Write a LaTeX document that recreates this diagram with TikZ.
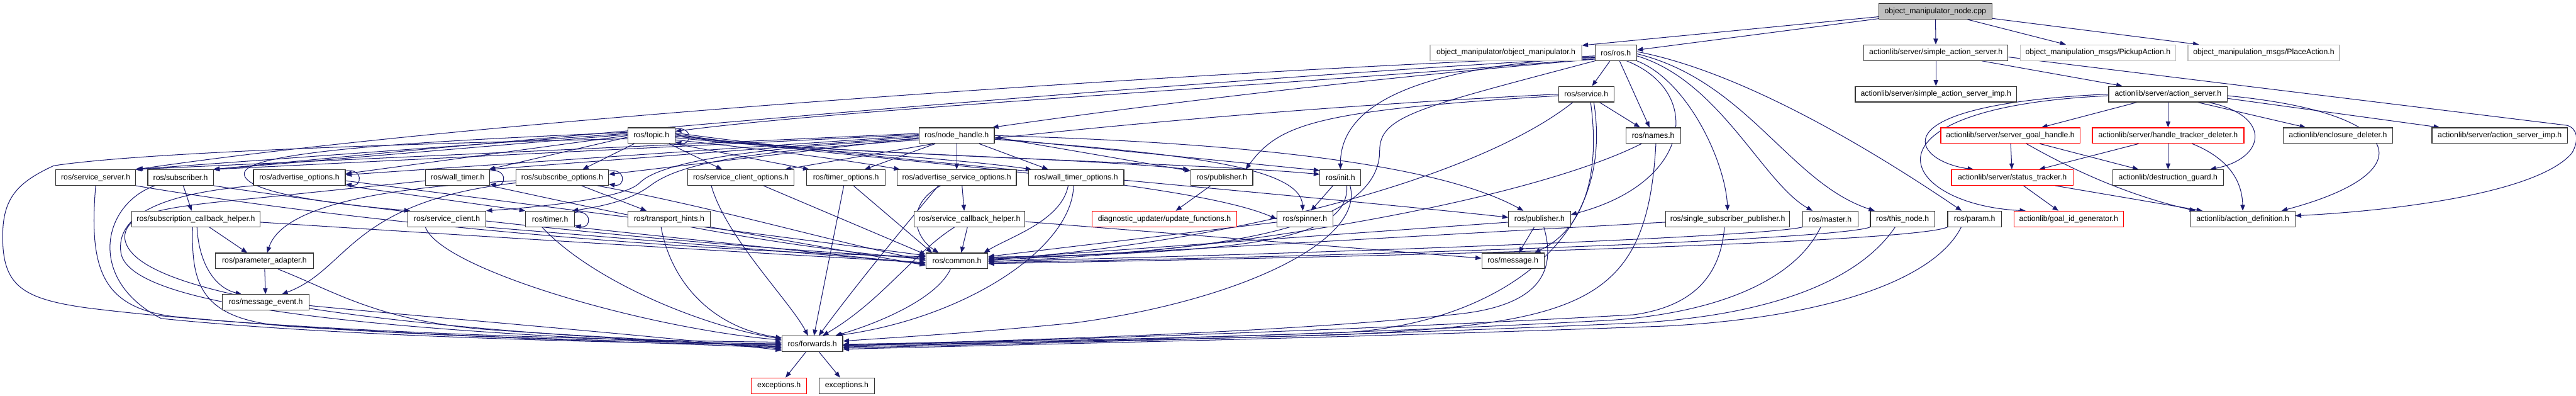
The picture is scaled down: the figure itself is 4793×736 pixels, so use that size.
\documentclass[tikz,border=0pt]{standalone}
\usepackage{fontspec}
\setmainfont{Liberation Sans}
\usetikzlibrary{arrows.meta}
\definecolor{navy}{HTML}{191970}
\definecolor{lgray}{HTML}{BFBFBF}
\pgfdeclarelayer{bg}
\pgfsetlayers{bg,main}
\begin{document}
\begin{tikzpicture}[x=1pt,y=1pt,
  box/.style={draw=black!80, line width=1.4pt, fill=white, minimum height=29pt, inner sep=0pt, text=black, font=\fontsize{14.4pt}{17pt}\selectfont},
  w/.style={minimum width=#1pt},
  redbox/.style={box, draw=red},
  graybox/.style={box, draw=lgray},
  e/.style={draw=navy, line width=1.2pt, -{Triangle[length=11pt,width=8.5pt]}}]
\useasboundingbox (0,0) rectangle (4793,-736);
% row 0
\node[box,w=210,fill=lgray] (nodecpp) at (3601,-21) {object\_manipulator\_node.cpp};
% row 1
\node[graybox,w=282] (objman) at (2802,-98) {object\_manipulator/object\_manipulator.h};
\node[box,w=77] (ros) at (3006.5,-98) {ros/ros.h};
\node[box,w=268] (sas) at (3602,-98) {actionlib/server/simple\_action\_server.h};
\node[graybox,w=289] (pickup) at (3903.5,-98) {object\_manipulation\_msgs/PickupAction.h};
\node[graybox,w=282] (place) at (4212,-98) {object\_manipulation\_msgs/PlaceAction.h};
% row 2
\node[box,w=103] (service) at (2951.5,-175) {ros/service.h};
\node[box,w=300] (sasimp) at (3602,-175) {actionlib/server/simple\_action\_server\_imp.h};
\node[box,w=221] (asrv) at (4034,-175) {actionlib/server/action\_server.h};
% row 3
\node[box,w=88] (topic) at (1212,-252) {ros/topic.h};
\node[box,w=140] (nh) at (1780,-252) {ros/node\_handle.h};
\node[box,w=102] (names) at (3076,-252) {ros/names.h};
\node[redbox,w=259] (sgh) at (3740.5,-252) {actionlib/server/server\_goal\_handle.h};
\node[redbox,w=282] (htd) at (4034,-252) {actionlib/server/handle\_tracker\_deleter.h};
\node[box,w=204] (encd) at (4350,-252) {actionlib/enclosure\_deleter.h};
\node[box,w=252] (asimp) at (4651,-252) {actionlib/server/action\_server\_imp.h};
% row 4
\node[box,w=148] (ss) at (178,-330) {ros/service\_server.h};
\node[box,w=122] (sub) at (336,-330) {ros/subscriber.h};
\node[box,w=171] (ao) at (557,-330) {ros/advertise\_options.h};
\node[box,w=119] (wt) at (851.5,-330) {ros/wall\_timer.h};
\node[box,w=172] (so) at (1046,-330) {ros/subscribe\_options.h};
\node[box,w=197] (sco) at (1378.5,-330) {ros/service\_client\_options.h};
\node[box,w=146] (tmo) at (1574,-330) {ros/timer\_options.h};
\node[box,w=222] (aso) at (1780,-330) {ros/advertise\_service\_options.h};
\node[box,w=177] (wto) at (2002.5,-330) {ros/wall\_timer\_options.h};
\node[box,w=115] (pubA) at (2273.5,-330) {ros/publisher.h};
\node[box,w=76] (init) at (2494,-330) {ros/init.h};
\node[redbox,w=226] (stk) at (3744,-330) {actionlib/server/status\_tracker.h};
\node[box,w=206] (dg) at (4034,-330) {actionlib/destruction\_guard.h};
% row 5
\node[box,w=239] (sch) at (364.5,-407) {ros/subscription\_callback\_helper.h};
\node[box,w=145] (sc) at (831.5,-407) {ros/service\_client.h};
\node[box,w=91] (timer) at (1023.5,-407) {ros/timer.h};
\node[box,w=154] (th) at (1245,-407) {ros/transport\_hints.h};
\node[box,w=206] (scbh) at (1804,-407) {ros/service\_callback\_helper.h};
\node[redbox,w=269] (duf) at (2166.5,-407) {diagnostic\_updater/update\_functions.h};
\node[box,w=104] (spin) at (2428,-407) {ros/spinner.h};
\node[box,w=115] (pubB) at (2864.5,-407) {ros/publisher.h};
\node[box,w=231] (ssp) at (3214.5,-407) {ros/single\_subscriber\_publisher.h};
\node[box,w=103] (master) at (3405.5,-407) {ros/master.h};
\node[box,w=120] (tn) at (3540,-407) {ros/this\_node.h};
\node[box,w=100] (param) at (3674,-407) {ros/param.h};
\node[redbox,w=204] (gig) at (3849,-407) {actionlib/goal\_id\_generator.h};
\node[box,w=194] (adef) at (4173,-407) {actionlib/action\_definition.h};
% row 6-9
\node[box,w=182] (pa) at (492,-485) {ros/parameter\_adapter.h};
\node[box,w=115] (common) at (1780.5,-485) {ros/common.h};
\node[box,w=116] (msg) at (2815,-485) {ros/message.h};
\node[box,w=161] (me) at (494.5,-562) {ros/message\_event.h};
\node[box,w=113] (fwd) at (1511.5,-639) {ros/forwards.h};
\node[redbox,w=103] (excA) at (1449.5,-717) {exceptions.h};
\node[box,w=103] (excB) at (1575.5,-717) {exceptions.h};

\begin{pgfonlayer}{bg}
\fill[white] (0,0) rectangle (4793,-736);
% ---- top / actionlib
\draw[e] (nodecpp) -- (objman);
\draw[e] (nodecpp) -- (ros);
\draw[e] (nodecpp) -- (sas);
\draw[e] (nodecpp) -- (pickup);
\draw[e] (nodecpp) -- (place);
\draw[e] (sas) -- (sasimp);
\draw[e] (sas) -- (asrv);
\draw[e] ([yshift=-8]sas.east) -- (4776,-233) .. controls (4795,-238) and (4800,-260) .. (4785,-285) .. controls (4720,-360) and (4450,-392) .. ([yshift=6]adef.east);
\draw[e] (asrv) -- (sgh);
\draw[e] (asrv) -- (htd);
\draw[e] (asrv.west) .. controls (3480,-195) and (3560,-300) .. ([xshift=-72]stk.north);
\draw[e] ([yshift=-3]asrv.west) .. controls (3440,-200) and (3530,-380) .. ([xshift=-80]gig.north);
\draw[e] ([xshift=75]asrv.south) .. controls (4230,-215) and (4215,-295) .. ([xshift=78]dg.north);
\draw[e] ([xshift=55]asrv.south) -- ([xshift=-60]encd.north);
\draw[e] ([yshift=-8]asrv.east) -- ([xshift=15]asimp.north west);
\draw[e] ([yshift=-3]asrv.east) .. controls (4480,-210) and (4515,-320) .. ([xshift=72]adef.north);
\draw[e] (sgh) -- (stk);
\draw[e] ([xshift=55]sgh.south) -- ([xshift=-55]dg.north);
\draw[e] ([xshift=30]sgh.south) .. controls (3890,-335) and (3990,-370) .. ([xshift=-88]adef.north);
\draw[e] ([xshift=-55]htd.south) -- ([xshift=50]stk.north);
\draw[e] (htd) -- (dg);
\draw[e] ([xshift=45]htd.south) .. controls (4160,-300) and (4172,-350) .. (adef.north);
\draw[e] ([xshift=21]stk.south) -- ([xshift=-19]gig.north);
\draw[e] ([xshift=80]stk.south) -- ([xshift=-75]adef.north);
% ---- ros.h
\draw[e] (ros) -- (service);
\draw[e] (ros) -- (names);
\draw[e] ([xshift=20]ros.south) .. controls (3170,-170) and (3150,-340) .. ([yshift=8]pubB.east);
\draw[e] (ros.south east) .. controls (3140,-150) and (3210,-300) .. (ssp.north);
\draw[e] ([yshift=-6]ros.east) .. controls (3200,-150) and (3280,-340) .. ([xshift=-33]master.north);
\draw[e] ([yshift=-2]ros.east) .. controls (3250,-150) and (3330,-340) .. ([xshift=-52]tn.north);
\draw[e] ([yshift=2]ros.east) .. controls (3250,-135) and (3500,-290) .. ([xshift=-24]param.north);
\draw[e] ([yshift=-8]ros.west) .. controls (2620,-125) and (2494,-200) .. (init.north);
\draw[e] ([yshift=-6]ros.west) .. controls (2200,-135) and (900,-220) .. ([xshift=2]ss.north east);
\draw[e] ([yshift=-9]ros.west) .. controls (2200,-150) and (1000,-255) .. (sub.north east);
\draw[e] ([yshift=-11]ros.west) .. controls (2300,-165) and (1600,-200) .. ([yshift=8]topic.east);
\draw[e] ([yshift=-12]ros.west) .. controls (2500,-150) and (2100,-200) .. ([xshift=-4]nh.north east);
\draw[e] (ros.south west) .. controls (2640,-200) and (2567,-215) .. (2567,-280) .. controls (2567,-440) and (2200,-472) .. ([yshift=5]common.east);
% ---- service.h / names.h
\draw[e] (service) -- (names);
\draw[e] (service.west) .. controls (2500,-195) and (2150,-225) .. ([yshift=-5]nh.east);
\draw[e] ([yshift=-3]service.west) .. controls (2450,-205) and (2380,-230) .. ([xshift=-14]pubA.north east);
\draw[e] ([xshift=8]service.south) .. controls (2975,-300) and (2960,-420) .. ([xshift=40]msg.north);
\draw[e] ([xshift=14]service.south) .. controls (3010,-470) and (2750,-605) .. (2500,-618) .. controls (2100,-632) and (1800,-636) .. ([yshift=-1]fwd.east);
\draw[e] ([xshift=-25]service.south) .. controls (2750,-330) and (2300,-450) .. ([yshift=2]common.east);
\draw[e] ([xshift=-22]names.south) .. controls (2850,-370) and (2300,-470) .. ([yshift=-1]common.east);
\draw[e] ([xshift=5]names.south) .. controls (3065,-560) and (2950,-600) .. (2500,-622) .. controls (2100,-634) and (1800,-638) .. ([yshift=-3]fwd.east);
% ---- topic.h
\draw[e] ([yshift=-3]topic.north east) .. controls +(32,6) and +(32,-6) .. ([yshift=3]topic.south east);
\draw[e] ([yshift=4]topic.west) -- ([xshift=-1]ss.north east);
\draw[e] ([yshift=2]topic.west) -- ([xshift=-1]sub.north east);
\draw[e] (topic.west) -- ([yshift=7]ao.east);
\draw[e] ([yshift=-3]topic.west) -- ([xshift=-2]wt.north east);
\draw[e] ([xshift=-32]topic.south) -- ([xshift=38]so.north);
\draw[e] ([xshift=33]topic.south) -- ([xshift=-35]sco.north);
\draw[e] (topic.south east) -- ([xshift=5]tmo.north west);
\draw[e] ([yshift=-8]topic.east) .. controls (1400,-275) and (1560,-295) .. ([xshift=6]aso.north west);
\draw[e] ([yshift=-4]topic.east) .. controls (1500,-280) and (1760,-292) .. ([xshift=6]wto.north west);
\draw[e] ([yshift=-1]topic.east) .. controls (1500,-285) and (2000,-292) .. ([xshift=-3]pubA.north west);
\draw[e] ([yshift=1]topic.east) .. controls (1500,-288) and (2200,-300) .. ([yshift=6]init.west);
\draw[e] ([yshift=3]topic.east) .. controls (1500,-290) and (2200,-330) .. (spin.west);
\draw[e] ([yshift=5]topic.east) .. controls (1600,-295) and (2400,-360) .. ([yshift=3]pubB.west);
\draw[e] ([yshift=6]topic.west) .. controls (900,-258) and (470,-275) .. (455,-320) .. controls (445,-355) and (600,-378) .. ([xshift=5]sc.north west);
\draw[e] ([yshift=-6]topic.west) .. controls (700,-268) and (250,-285) .. (100,-308) .. controls (30,-340) and (5,-370) .. (5,-440) .. controls (5,-530) and (40,-555) .. (160,-572) .. controls (500,-615) and (1100,-632) .. ([yshift=3]fwd.west);
% ---- node_handle.h
\draw[e] ([yshift=4]nh.west) -- (ss.north east);
\draw[e] ([yshift=2]nh.west) -- (sub.north east);
\draw[e] (nh.west) -- ([yshift=5]ao.east);
\draw[e] ([yshift=-2]nh.west) -- ([xshift=-1]wt.north east);
\draw[e] ([yshift=-4]nh.west) -- ([yshift=6]so.east);
\draw[e] ([yshift=-6]nh.west) .. controls (1400,-275) and (1230,-300) .. (1190,-340) .. controls (1160,-370) and (1000,-385) .. (sc.north east);
\draw[e] ([yshift=-8]nh.west) .. controls (1400,-282) and (1270,-300) .. (1210,-345) .. controls (1170,-375) and (1110,-385) .. ([xshift=-5]timer.north east);
\draw[e] ([xshift=-43]nh.south) -- ([xshift=-17]sco.north east);
\draw[e] ([xshift=-40]nh.south) -- ([xshift=-39]tmo.north east);
\draw[e] (nh) -- (aso);
\draw[e] ([xshift=42]nh.south) -- ([xshift=37]wto.north west);
\draw[e] ([yshift=-3]nh.east) -- ([yshift=-3]pubA.north west);
\draw[e] ([yshift=-5]nh.east) -- ([yshift=-2]init.north west);
\draw[e] ([yshift=-7]nh.east) .. controls (2200,-285) and (2420,-310) .. ([xshift=-4]spin.north);
\draw[e] (nh.east) .. controls (2200,-262) and (2650,-290) .. ([xshift=-30]pubB.north);
% ---- row 4
\draw[e] (ss.south east) .. controls (700,-420) and (1300,-468) .. ([yshift=8]common.west);
\draw[e] (ss.south) .. controls (165,-500) and (190,-570) .. (320,-588) .. controls (700,-625) and (1200,-636) .. (fwd.west);
\draw[e] ([xshift=5]sub.south) -- ([xshift=-8]sch.north);
\draw[e] (sub.south east) .. controls (900,-420) and (1400,-462) .. ([yshift=5]common.west);
\draw[e] ([xshift=-48]sub.south) .. controls (190,-380) and (160,-520) .. (300,-592) .. controls (650,-628) and (1200,-638) .. ([yshift=-2]fwd.west);
\draw[e] ([yshift=-3]ao.north east) .. controls +(32,6) and +(32,-6) .. ([yshift=3]ao.south east);
\draw[e] (ao.south west) .. controls (300,-360) and (215,-400) .. (225,-470) .. controls (240,-560) and (600,-615) .. ([yshift=-4]fwd.west);
\draw[e] ([yshift=-6]ao.east) -- ([yshift=10]common.west);
\draw[e] (ao.south east) -- (timer.north west);
\draw[e] ([yshift=-3]wt.north east) .. controls +(32,6) and +(32,-6) .. ([yshift=3]wt.south east);
\draw[e] (wt.south east) .. controls (1100,-385) and (1400,-455) .. ([yshift=3]common.west);
\draw[e] ([yshift=-6]wt.west) -- (480,-368) .. controls (300,-385) and (235,-395) .. (232,-440) .. controls (235,-530) and (550,-605) .. ([yshift=-6]fwd.west);
\draw[e] ([yshift=-3]so.north east) .. controls +(32,6) and +(32,-6) .. ([yshift=3]so.south east);
\draw[e] ([xshift=36]so.south) -- ([xshift=-42]th.north);
\draw[e] ([xshift=66]so.south) .. controls (1350,-390) and (1550,-450) .. ([yshift=1]common.west);
\draw[e] ([yshift=-6]so.west) .. controls (640,-352) and (520,-400) .. ([xshift=5]pa.north);
\draw[e] ([yshift=-10]so.west) .. controls (650,-375) and (650,-500) .. ([xshift=30]me.north);
\draw[e] ([xshift=42]sco.south) -- ([yshift=12]common.west);
\draw[e] ([xshift=-55]sco.south) .. controls (1350,-440) and (1470,-560) .. ([xshift=-8]fwd.north);
\draw[e] ([xshift=14]tmo.south) -- ([xshift=12]common.north west);
\draw[e] ([xshift=-4]tmo.south) -- ([xshift=3]fwd.north);
\draw[e] ([xshift=10]aso.south) -- ([xshift=-10]scbh.north);
\draw[e] ([xshift=-30]aso.south) .. controls (1685,-380) and (1700,-440) .. ([xshift=-34]common.north);
\draw[e] ([xshift=-34]aso.south) .. controls (1700,-400) and (1600,-520) .. ([xshift=12]fwd.north);
\draw[e] ([xshift=-15]wto.south) .. controls (1975,-410) and (1880,-440) .. ([xshift=50]common.north);
\draw[e] ([xshift=-5]wto.south) .. controls (1995,-460) and (1800,-590) .. ([xshift=-12]fwd.north east);
\draw[e] (pubA) -- (duf);
\draw[e] ([xshift=-14]init.south) -- ([xshift=11]spin.north);
\draw[e] ([xshift=12]init.south) .. controls (2510,-440) and (2350,-470) .. ([yshift=7]common.east);
\draw[e] ([xshift=18]init.south) .. controls (2540,-450) and (2300,-560) .. (2000,-600) .. controls (1800,-620) and (1650,-628) .. ([yshift=5]fwd.east);
% ---- row 5
\draw[e] ([xshift=25]sch.south) -- ([xshift=-32]pa.north);
\draw[e] ([xshift=2]sch.south) .. controls (370,-490) and (400,-535) .. ([xshift=-45]me.north);
\draw[e] ([yshift=-6]sch.east) .. controls (900,-440) and (1400,-470) .. ([yshift=-3]common.west);
\draw[e] ([xshift=-6]sch.south) .. controls (355,-540) and (380,-600) .. (560,-608) .. controls (900,-630) and (1250,-637) .. ([yshift=-8]fwd.west);
\draw[e] (sc.south east) -- ([yshift=-4]common.west);
\draw[e] ([xshift=-40]sc.south) .. controls (820,-500) and (1200,-610) .. ([yshift=7]fwd.west);
\draw[e] ([yshift=-3]timer.north east) .. controls +(32,6) and +(32,-6) .. ([yshift=3]timer.south east);
\draw[e] (timer.south east) -- ([yshift=-6]common.west);
\draw[e] ([xshift=-15]timer.south) .. controls (1100,-520) and (1300,-605) .. ([yshift=9]fwd.west);
\draw[e] (th.south east) -- ([yshift=-8]common.west);
\draw[e] ([xshift=-15]th.south) .. controls (1250,-530) and (1330,-610) .. ([yshift=11]fwd.west);
\draw[e] ([yshift=-5]scbh.east) -- ([yshift=5]msg.west);
\draw[e] ([xshift=-4]scbh.south) -- ([xshift=8]common.north);
\draw[e] ([xshift=-28]scbh.south) .. controls (1700,-470) and (1640,-560) .. ([xshift=-38]fwd.north east);
\draw[e] ([yshift=-6]spin.west) -- ([yshift=8]common.east);
\draw[e] ([xshift=-10]pubB.south) -- ([xshift=11]msg.north);
\draw[e] ([yshift=-6]pubB.west) -- ([yshift=3]common.east);
\draw[e] ([xshift=8]pubB.south) .. controls (2895,-500) and (2870,-565) .. (2720,-583) .. controls (2400,-618) and (1900,-633) .. ([yshift=-2]fwd.east);
\draw[e] ([yshift=-6]ssp.west) -- ([yshift=1]common.east);
\draw[e] ([xshift=-6]ssp.south) .. controls (3200,-530) and (3130,-572) .. (3040,-585) .. controls (2500,-615) and (2000,-630) .. ([yshift=-4]fwd.east);
\draw[e] (master.south west) .. controls (3280,-440) and (2500,-470) .. ([yshift=-1]common.east);
\draw[e] ([xshift=-18]master.south) .. controls (3340,-520) and (3200,-580) .. (3000,-595) .. controls (2500,-622) and (2000,-634) .. ([yshift=-6]fwd.east);
\draw[e] (tn.south west) .. controls (3420,-445) and (2600,-475) .. ([yshift=-3]common.east);
\draw[e] ([xshift=-14]tn.south) .. controls (3460,-520) and (3300,-585) .. (3050,-600) .. controls (2500,-625) and (2000,-636) .. ([yshift=-8]fwd.east);
\draw[e] (param.south west) .. controls (3560,-450) and (2700,-475) .. ([yshift=-5]common.east);
\draw[e] ([xshift=-25]param.south) .. controls (3600,-520) and (3400,-590) .. (3100,-606) .. controls (2500,-628) and (2000,-638) .. ([yshift=-10]fwd.east);
% ---- rows 6-9
\draw[e] (pa) -- (me);
\draw[e] ([xshift=25]pa.south) .. controls (620,-540) and (700,-595) .. (900,-612) .. controls (1150,-630) and (1350,-636) .. ([yshift=-10]fwd.west);
\draw[e] ([yshift=-6]me.east) .. controls (800,-590) and (1200,-622) .. ([yshift=-12]fwd.west);
\draw[e] ([xshift=-12]common.south) .. controls (1740,-560) and (1620,-605) .. ([xshift=43]fwd.north);
\draw[e] (fwd) -- (excA);
\draw[e] (fwd) -- (excB);
\end{pgfonlayer}
\end{tikzpicture}
\end{document}
